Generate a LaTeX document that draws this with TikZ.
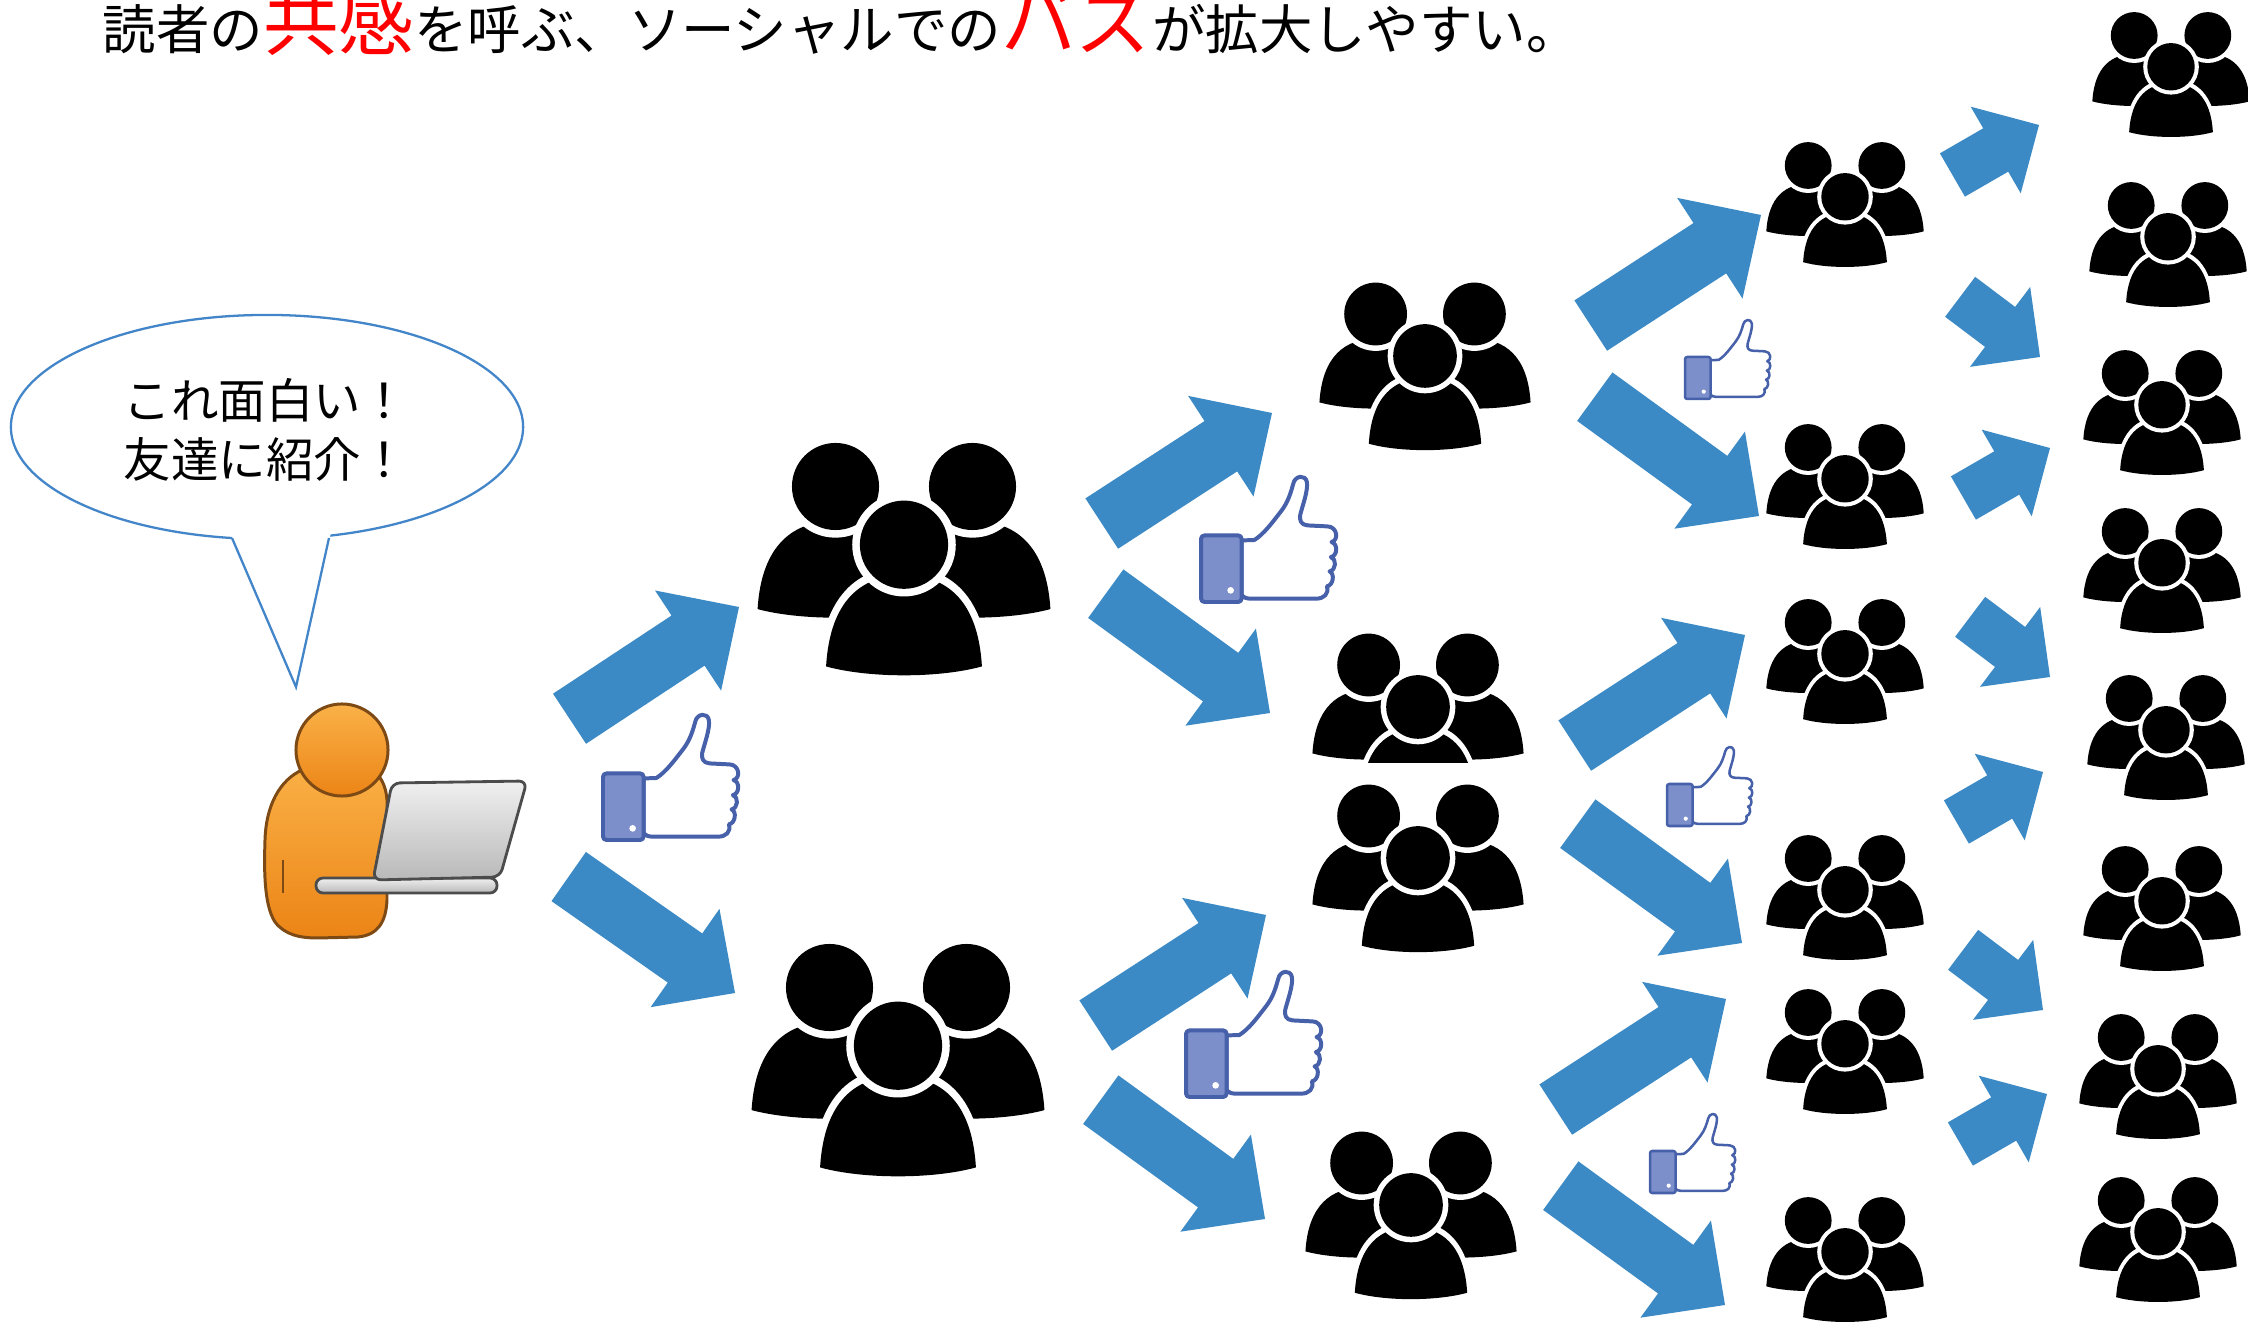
\documentclass[tikz,border=0pt]{standalone}
\usepackage{fontspec}
\setmainfont{Noto Sans CJK JP}

\definecolor{arrowblue}{RGB}{59,137,197}
\definecolor{likefill}{RGB}{125,143,203}
\definecolor{likeline}{RGB}{70,96,170}
\definecolor{bubbleline}{RGB}{66,133,200}
\definecolor{skinline}{RGB}{125,74,22}

% red, larger words in the headline
\newcommand{\hot}[1]{{\color{red}\fontsize{21.5pt}{23pt}\selectfont #1}}
% shoulders of one person: centre x, top y, half width, height
\newcommand{\dome}[4]{(#1-#3,#2+#4) .. controls (#1-0.95*#3,#2+0.26*#4) and (#1-0.53*#3,#2) .. (#1,#2) .. controls (#1+0.53*#3,#2) and (#1+0.95*#3,#2+0.26*#4) .. (#1+#3,#2+#4) .. controls (#1+0.45*#3,#2+1.13*#4) and (#1-0.45*#3,#2+1.13*#4) .. cycle}

\begin{document}
\begin{tikzpicture}[
    x=0.01cm, y=-0.01cm, % pixel grid, y down
    title/.style={
        anchor=base west,
        inner sep=0pt,
        font=\fontsize{15.2pt}{18pt}\selectfont
    },
    says/.style={
        align=center,
        inner sep=0pt,
        font=\fontsize{13.5pt}{16.8pt}\selectfont
    },
    bubble/.style={
        draw=bubbleline,
        line width=0.65pt
    },
    skin/.style={
        top color={rgb,255:red,250;green,178;blue,72},
        bottom color={rgb,255:red,236;green,132;blue,22},
        draw=skinline,
        line width=0.85pt
    },
    metal/.style={
        top color=gray!12,
        bottom color=gray!55,
        draw=black!70,
        line width=0.8pt
    },
    pics/crowd/.style={code={ % three people, #1 = width
        \begin{scope}[scale=#1/100]
            \fill \dome{-23.3}{-13.3}{26.5}{30};
            \fill \dome{23.3}{-13.3}{26.5}{30};
            \fill[white] (-23.3,-25) circle[radius=0.174cm];
            \fill[white] (23.3,-25) circle[radius=0.174cm];
            \fill (-23.3,-25) circle[radius=0.148cm];
            \fill (23.3,-25) circle[radius=0.148cm];
            \fill[white] \dome{0}{2.4}{29.3}{36};
            \fill \dome{0}{5.2}{26.5}{31};
            \fill[white] (0,-5.2) circle[radius=0.176cm];
            \fill (0,-5.2) circle[radius=0.15cm];
        \end{scope}
    }},
    pics/like/.style={code={ % thumbs up, #1 = scale
        \begin{scope}[scale=#1, line join=round]
            \filldraw[fill=white, draw=likeline, line width=#1*3.4pt] (122,-185) -- (160,-186)
                .. controls (190,-205) and (215,-240) .. (240,-272)
                .. controls (262,-300) and (270,-330) .. (277,-355)
                .. controls (282,-380) and (314,-384) .. (318,-360)
                .. controls (322,-335) and (305,-290) .. (298,-262)
                .. controls (295,-245) and (300,-232) .. (320,-230)
                -- (380,-227)
                .. controls (410,-226) and (414,-185) .. (392,-180)
                .. controls (412,-175) and (410,-138) .. (390,-135)
                .. controls (408,-130) and (406,-95) .. (386,-92)
                .. controls (402,-86) and (398,-50) .. (378,-47)
                .. controls (385,-25) and (370,-10) .. (345,-10)
                -- (150,-10) .. controls (135,-10) and (128,-14) .. (122,-20) -- cycle;
            \filldraw[fill=likefill, draw=likeline, line width=#1*3.4pt, rounded corners=#1*3pt] (0,-200) rectangle (122,0);
            \fill[white] (89,-35) circle[radius=0.1cm];
        \end{scope}
    }},
    pics/bigarrow/.style={code={
        \fill[arrowblue] (0,0) -- (-61,-60) -- (-61,-30) -- (-203,-30) -- (-203,30) -- (-61,30) -- (-61,60) -- cycle;
    }},
    pics/smallarrow/.style={code={
        \fill[arrowblue] (0,0) -- (-50,-50) -- (-50,-25) -- (-100,-25) -- (-100,25) -- (-50,25) -- (-50,50) -- cycle;
    }}
]

    \useasboundingbox (0,0) rectangle (2248,1322);
    \fill[white] (0,0) rectangle (2248,1322);

    \node[title] (title) at (102,50) {読者の\hot{共感}を呼ぶ、ソーシャルでの\hot{バズ}が拡大しやすい。};

    % speech bubble
    \draw[bubble, fill=white] (267,427) ellipse[x radius=2.56cm, y radius=1.12cm];
    \fill[white] (229,530) -- (296,687) -- (332,528) -- cycle;
    \draw[bubble] (232,538) -- (296,687) -- (329,538);
    \node[says] (says) at (266,430) {これ面白い！\\友達に紹介！};

    % reader with laptop
    \draw[skin] (302,770) .. controls (280,780) and (266,805) .. (265,840)
        .. controls (264,870) and (264,905) .. (275,922)
        .. controls (285,935) and (300,938) .. (318,938)
        -- (358,937)
        .. controls (378,935) and (386,922) .. (387,900)
        -- (387,800)
        .. controls (386,785) and (380,775) .. (372,770)
        .. controls (350,760) and (320,760) .. cycle;
    \draw[skinline, line width=0.7pt] (283,860) -- (283,893);
    \draw[skin] (342,750) circle[radius=0.46cm];
    \draw[metal, rounded corners=0.07cm] (316,878) rectangle (497,893);
    \draw[metal, rounded corners=0.08cm] (392,783) -- (527,781) -- (500,877) -- (373,880) -- cycle;

    % 1st share
    \pic[rotate=33.4] (a1) at (739,607) {bigarrow};
    \pic[rotate=-35] (a2) at (735,993) {bigarrow};
    \pic (t1) at (603,840) {like=0.333};
    \pic (g1a) at (904,560) {crowd=294};
    \pic (g1b) at (898,1061) {crowd=294};

    % 2nd share
    \pic[rotate=33] (a3) at (1272,413) {bigarrow};
    \pic[rotate=-36] (a4) at (1270,713) {bigarrow};
    \pic[rotate=33] (a5) at (1266,915) {bigarrow};
    \pic[rotate=-36] (a6) at (1265,1219) {bigarrow};
    \pic (t2) at (1201,602) {like=0.333};
    \pic (t3) at (1186,1097) {like=0.333};
    \pic (g2a) at (1425,367) {crowd=212};
    \begin{scope}
        \clip (1290,600) rectangle (1550,763);
        \pic (g2b) at (1418,718) {crowd=212};
    \end{scope}
    \pic (g2c) at (1418,869) {crowd=212};
    \pic (g2d) at (1411,1216) {crowd=212};

    % 3rd share
    \pic[rotate=33] (a7) at (1761,215) {bigarrow};
    \pic[rotate=-36] (a8) at (1759,516) {bigarrow};
    \pic[rotate=33] (a9) at (1745,635) {bigarrow};
    \pic[rotate=-36] (a10) at (1742,943) {bigarrow};
    \pic[rotate=33] (a11) at (1726,999) {bigarrow};
    \pic[rotate=-36] (a12) at (1725,1305) {bigarrow};
    \pic (t4) at (1685,399) {like=0.21};
    \pic (t5) at (1667,826) {like=0.21};
    \pic (t6) at (1650,1193) {like=0.21};
    \foreach \y [count=\i] in {205,487,662,898,1052,1260}
        \pic (g3-\i) at (1845,\y) {crowd=158};

    % last step
    \pic[rotate=30] (b1) at (2039,125) {smallarrow};
    \pic[rotate=-37] (b2) at (2040,357) {smallarrow};
    \pic[rotate=30] (b3) at (2050,448) {smallarrow};
    \pic[rotate=-37] (b4) at (2050,677) {smallarrow};
    \pic[rotate=30] (b5) at (2043,772) {smallarrow};
    \pic[rotate=-37] (b6) at (2043,1010) {smallarrow};
    \pic[rotate=30] (b7) at (2047,1094) {smallarrow};
    \foreach \x/\y [count=\i] in {2171/75,2168/245,2162/413,2162/571,2166/738,2162/909,2158/1077,2158/1240}
        \pic (g4-\i) at (\x,\y) {crowd=158};

\end{tikzpicture}
\end{document}
